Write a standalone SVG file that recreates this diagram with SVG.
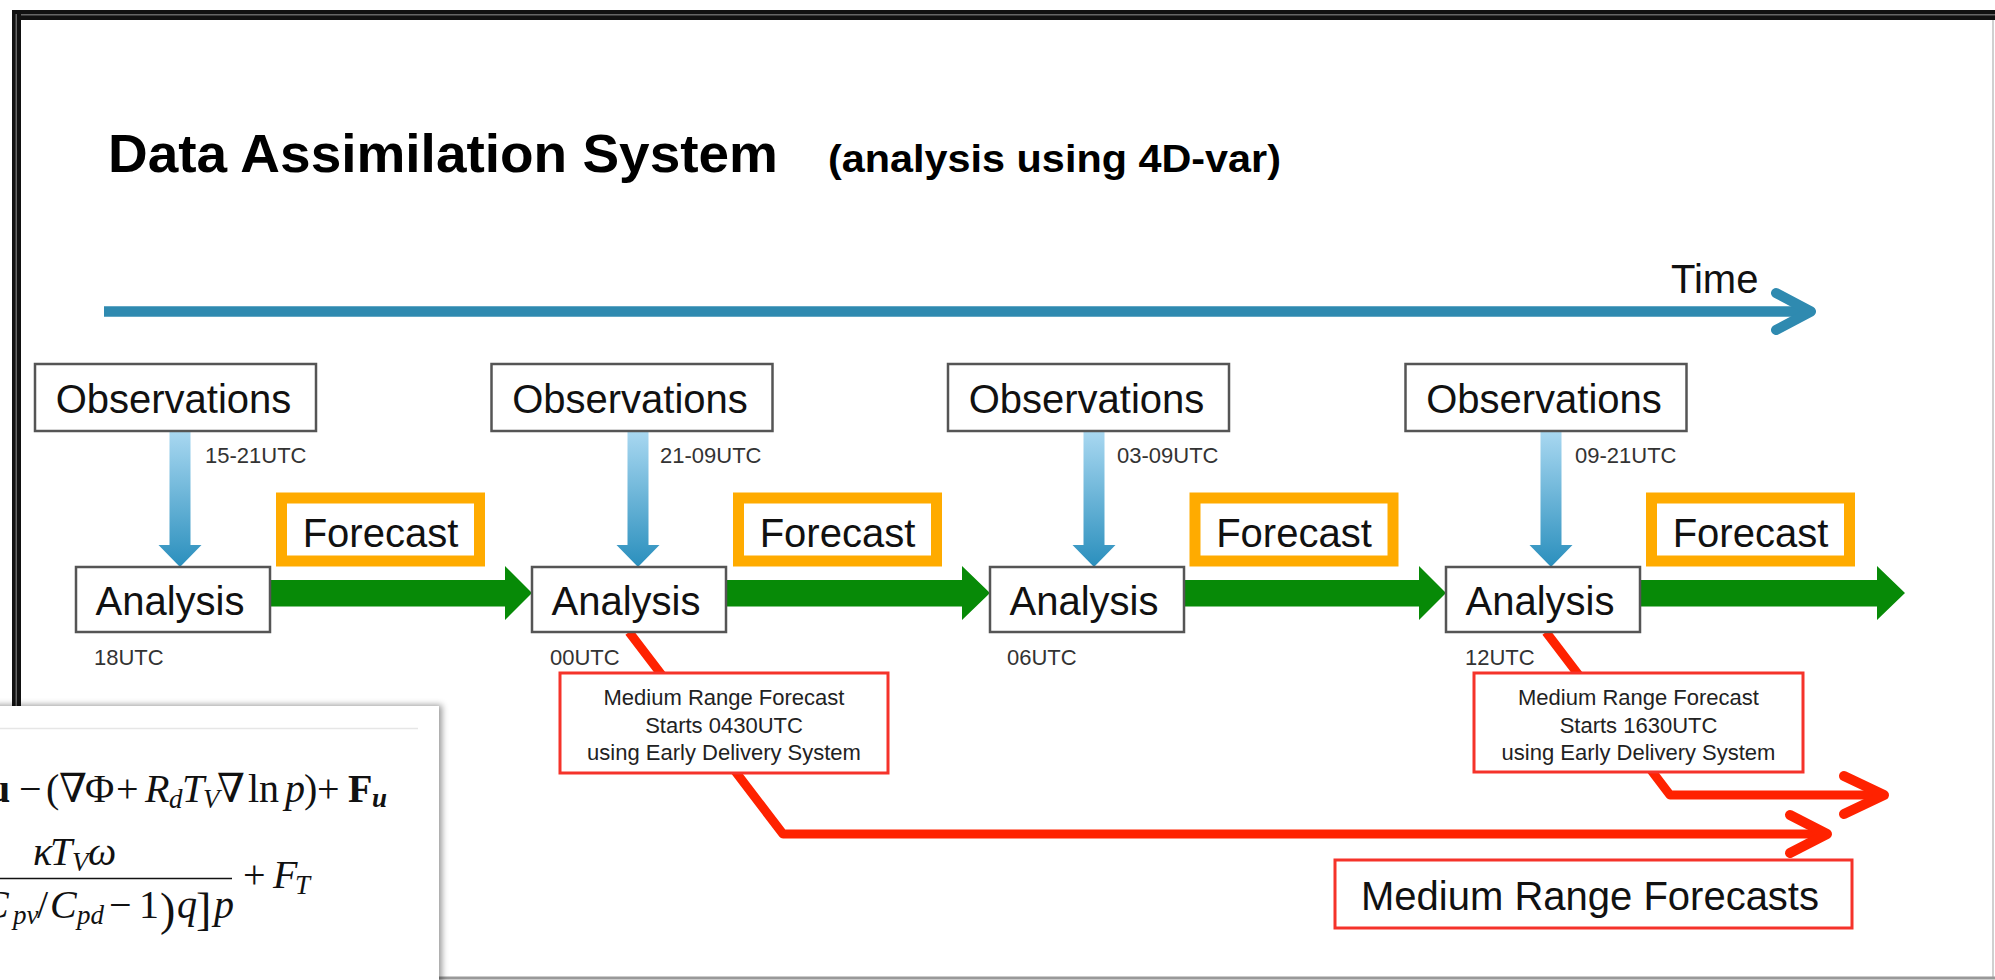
<svg xmlns="http://www.w3.org/2000/svg" width="1995" height="980" viewBox="0 0 1995 980">
<defs>
  <linearGradient id="blueGrad" x1="0" y1="0" x2="0" y2="1">
    <stop offset="0" stop-color="#A9D8F1"/>
    <stop offset="1" stop-color="#2A8FBD"/>
  </linearGradient>
  <filter id="shadow" x="-10%" y="-10%" width="130%" height="130%">
    <feDropShadow dx="3" dy="-1" stdDeviation="3" flood-color="#000" flood-opacity="0.4"/>
  </filter>
</defs>
<style>
  .sans { font-family: "Liberation Sans", Arial, sans-serif; }
  .box { fill: #fff; stroke: #555; stroke-width: 2.5; }
  .big { font-size: 40px; fill: #111; }
  .small { font-size: 22px; fill: #333; }
  .fc { fill: #fff; stroke: #FFAB00; stroke-width: 11; }
  .green { fill: #078A07; }
  .obsArrow { fill: url(#blueGrad); }
  .redLine { fill: none; stroke: #FF2200; stroke-width: 9; stroke-linejoin: round; }
  .redHead { fill: none; stroke: #FF2200; stroke-width: 10; stroke-linecap: round; stroke-linejoin: round; }
  .rbox { fill: #fff; stroke: #F5332A; stroke-width: 3; }
  .rtxt { font-size: 22px; fill: #222; }
  .math { font-family: "Liberation Serif", "DejaVu Serif", serif; fill: #111; font-size: 40px; }
  .it { font-style: italic; }
  .sub { font-size: 27px; }
</style>
<rect x="0" y="0" width="1995" height="980" fill="#fff"/>

<g id="frame">
  <rect x="12" y="10" width="1983" height="10" fill="#111"/>
  <rect x="16" y="14" width="1979" height="1.5" fill="#666"/>
  <rect x="12" y="10" width="9" height="700" fill="#111"/>
  <rect x="15.5" y="14" width="1.5" height="696" fill="#666"/>
  <line x1="1993" y1="20" x2="1993" y2="978" stroke="#d0d0d0" stroke-width="2"/>
  <line x1="0" y1="978" x2="1995" y2="978" stroke="#999" stroke-width="3"/>
</g>

<g id="title" class="sans">
  <text x="108" y="172" font-size="54" font-weight="bold" fill="#000" textLength="670" lengthAdjust="spacingAndGlyphs">Data Assimilation System</text>
  <text x="828" y="172" font-size="39" font-weight="bold" fill="#000" textLength="453" lengthAdjust="spacingAndGlyphs">(analysis using 4D-var)</text>
</g>

<g id="time-axis">
  <line x1="104" y1="311.5" x2="1808" y2="311.5" stroke="#2F8AB0" stroke-width="10.5"/>
  <path d="M1776,293 L1811,311.5 L1776,330" fill="none" stroke="#2F8AB0" stroke-width="10" stroke-linecap="round" stroke-linejoin="round"/>
  <text class="sans" x="1671" y="293" font-size="40" fill="#111">Time</text>
</g>

<g id="connectors">
  <path class="obsArrow" d="M169.5,431 H190.5 V545 H201.5 L180,567 L158.5,545 H169.5 Z"/>
  <path class="obsArrow" d="M627.5,431 H648.5 V545 H659.5 L638,567 L616.5,545 H627.5 Z"/>
  <path class="obsArrow" d="M1083.5,431 H1104.5 V545 H1115.5 L1094,567 L1072.5,545 H1083.5 Z"/>
  <path class="obsArrow" d="M1540.5,431 H1561.5 V545 H1572.5 L1551,567 L1529.5,545 H1540.5 Z"/>

  <path class="green" d="M270,580 H505 V566 L532,593 L505,620 V606.5 H270 Z"/>
  <path class="green" d="M726,580 H962 V566 L990,593 L962,620 V606.5 H726 Z"/>
  <path class="green" d="M1184,580 H1419 V566 L1446,593 L1419,620 V606.5 H1184 Z"/>
  <path class="green" d="M1640,580 H1877 V566 L1905,593 L1877,620 V606.5 H1640 Z"/>

  <path class="redLine" d="M629,632 L783,834 L1822,834"/>
  <path class="redHead" d="M1790,815 L1827,834 L1790,853"/>
  <path class="redLine" d="M1546,632 L1670,795 L1880,795"/>
  <path class="redHead" d="M1844,776 L1884,795 L1844,814"/>
</g>

<g id="labels" class="sans small">
  <text x="205" y="463">15-21UTC</text>
  <text x="660" y="463">21-09UTC</text>
  <text x="1117" y="463">03-09UTC</text>
  <text x="1575" y="463">09-21UTC</text>
  <text x="94" y="665">18UTC</text>
  <text x="550" y="665">00UTC</text>
  <text x="1007" y="665">06UTC</text>
  <text x="1465" y="665">12UTC</text>
</g>

<g id="obs1"><rect class="box" x="35" y="364" width="281" height="67"/><text class="sans big" x="173.5" y="413" text-anchor="middle">Observations</text></g>
<g id="obs2"><rect class="box" x="491.5" y="364" width="281" height="67"/><text class="sans big" x="630" y="413" text-anchor="middle">Observations</text></g>
<g id="obs3"><rect class="box" x="948" y="364" width="281" height="67"/><text class="sans big" x="1086.5" y="413" text-anchor="middle">Observations</text></g>
<g id="obs4"><rect class="box" x="1405.5" y="364" width="281" height="67"/><text class="sans big" x="1544" y="413" text-anchor="middle">Observations</text></g>

<g id="ana1"><rect class="box" x="76" y="567" width="194" height="65"/><text class="sans big" x="170" y="615" text-anchor="middle">Analysis</text></g>
<g id="ana2"><rect class="box" x="532" y="567" width="194" height="65"/><text class="sans big" x="626" y="615" text-anchor="middle">Analysis</text></g>
<g id="ana3"><rect class="box" x="990" y="567" width="194" height="65"/><text class="sans big" x="1084" y="615" text-anchor="middle">Analysis</text></g>
<g id="ana4"><rect class="box" x="1446" y="567" width="194" height="65"/><text class="sans big" x="1540" y="615" text-anchor="middle">Analysis</text></g>

<g id="fc1"><rect class="fc" x="281.5" y="498" width="198" height="63"/><text class="sans big" x="380.5" y="547" text-anchor="middle">Forecast</text></g>
<g id="fc2"><rect class="fc" x="738.5" y="498" width="198" height="63"/><text class="sans big" x="837.5" y="547" text-anchor="middle">Forecast</text></g>
<g id="fc3"><rect class="fc" x="1195" y="498" width="198" height="63"/><text class="sans big" x="1294" y="547" text-anchor="middle">Forecast</text></g>
<g id="fc4"><rect class="fc" x="1651.5" y="498" width="198" height="63"/><text class="sans big" x="1750.5" y="547" text-anchor="middle">Forecast</text></g>

<g id="mrf1">
  <rect class="rbox" x="560" y="673" width="328" height="100"/>
  <text class="sans rtxt" x="724" y="705" text-anchor="middle">Medium Range Forecast</text>
  <text class="sans rtxt" x="724" y="732.5" text-anchor="middle">Starts 0430UTC</text>
  <text class="sans rtxt" x="724" y="759.5" text-anchor="middle">using Early Delivery System</text>
</g>
<g id="mrf2">
  <rect class="rbox" x="1474" y="673" width="329" height="99"/>
  <text class="sans rtxt" x="1638.5" y="705" text-anchor="middle">Medium Range Forecast</text>
  <text class="sans rtxt" x="1638.5" y="732.5" text-anchor="middle">Starts 1630UTC</text>
  <text class="sans rtxt" x="1638.5" y="759.5" text-anchor="middle">using Early Delivery System</text>
</g>
<g id="mrfs">
  <rect class="rbox" x="1335" y="860" width="517" height="68"/>
  <text class="sans" x="1590" y="910" font-size="40" fill="#111" text-anchor="middle">Medium Range Forecasts</text>
</g>

<g id="equation-panel">
  <rect x="-10" y="706" width="449" height="290" fill="#fff" filter="url(#shadow)"/>
  <line x1="0" y1="728.5" x2="418" y2="728.5" stroke="#e6e6e6" stroke-width="1.5"/>
  <text class="math" y="802">
    <tspan x="-12" font-weight="bold">u</tspan>
    <tspan x="19">−</tspan>
    <tspan x="46">(</tspan>
    <tspan x="59">∇</tspan>
    <tspan x="85">Φ</tspan>
    <tspan x="116">+</tspan>
    <tspan x="145" class="it">R</tspan>
    <tspan x="169" dy="6" class="it sub">d</tspan>
    <tspan x="182" dy="-6" class="it">T</tspan>
    <tspan x="203" dy="6" class="it sub">V</tspan>
    <tspan x="217" dy="-6">∇</tspan>
    <tspan x="248">ln</tspan>
    <tspan x="285" class="it">p</tspan>
    <tspan x="304">)</tspan>
    <tspan x="317">+</tspan>
    <tspan x="348" font-weight="bold">F</tspan>
    <tspan x="372" dy="5" class="sub" font-weight="bold" font-style="italic">u</tspan>
  </text>
  <text class="math" y="865">
    <tspan x="33" class="it">κ</tspan>
    <tspan x="50" class="it">T</tspan>
    <tspan x="72" dy="6" class="it sub">V</tspan>
    <tspan x="88" dy="-6" class="it">ω</tspan>
  </text>
  <line x1="0" y1="878.5" x2="232" y2="878.5" stroke="#111" stroke-width="1.6"/>
  <text class="math" y="888">
    <tspan x="243">+</tspan>
    <tspan x="273" class="it">F</tspan>
    <tspan x="295" dy="6" class="it sub">T</tspan>
  </text>
  <text class="math" y="918">
    <tspan x="-18" class="it">C</tspan>
    <tspan x="13" dy="6" class="it sub">pv</tspan>
    <tspan x="37" dy="-6">/</tspan>
    <tspan x="50" class="it">C</tspan>
    <tspan x="77" dy="6" class="it sub">pd</tspan>
    <tspan x="109" dy="-6">−</tspan>
    <tspan x="139">1</tspan>
    <tspan x="160" dy="7" font-size="46">)</tspan>
    <tspan x="177" dy="-7" class="it">q</tspan>
    <tspan x="196" dy="7" font-size="46">]</tspan>
    <tspan x="214" dy="-7" class="it">p</tspan>
  </text>
</g>
</svg>
